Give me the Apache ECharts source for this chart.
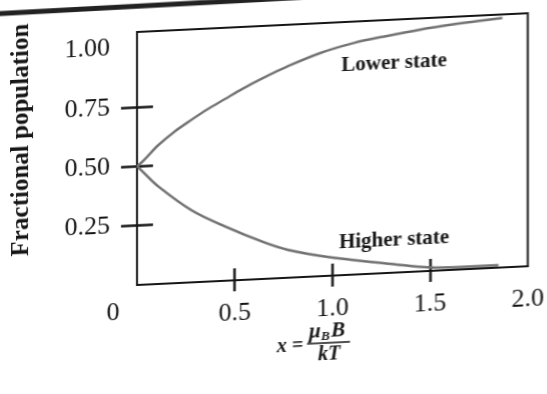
<!DOCTYPE html>
<html>
<head>
<meta charset="utf-8">
<script src="https://cdn.jsdelivr.net/npm/echarts@6/dist/echarts.min.js"></script>
<style>
  html, body { margin: 0; padding: 0; background: #ffffff; }
  /* the printed figure sits on a slightly sheared page */
  #chart { width: 547px; height: 394px; transform: skewY(-2.75deg); transform-origin: 137px 285px; }
</style>
</head>
<body>
<div id="chart"></div>
<script>
// Tick positions and labels
const xTickLabels = [0, 0.5, 1.0, 1.5, 2.0];
const xTickMarks = [0.5, 1.0, 1.5];
const yTickLabels = [0.25, 0.5, 0.75, 1.0];
const yTickMarks = [0.25, 0.5, 0.75];

// Lower state population vs x = muB*B/kT
const lowerX = [0, 0.03, 0.11, 0.19, 0.28, 0.36, 0.45, 0.54, 0.65, 0.77, 0.94, 1.11, 1.28, 1.45, 1.62, 1.79, 1.87];
const lowerY = [0.50, 0.52, 0.585, 0.637, 0.685, 0.725, 0.765, 0.805, 0.848, 0.89, 0.94, 0.975, 0.998, 1.018, 1.033, 1.045, 1.05];

// Higher state population
const higherX = [0, 0.03, 0.11, 0.28, 0.45, 0.65, 0.77, 0.98, 1.32, 1.53, 1.75, 1.85];
const higherY = [0.50, 0.475, 0.41, 0.303, 0.229, 0.154, 0.118, 0.079, 0.035, 0.013, 0.01, 0.01];

const zip = (xs, ys) => xs.map((x, i) => [x, ys[i]]);

const INK = '#161616';
const CURVE = '#727272';
const SERIF = '"Liberation Serif", "DejaVu Serif", serif';

const X_MIN = 0, X_MAX = 2;
const Y_MIN = 0, Y_MAX = 1.065;

const chart = echarts.init(document.getElementById('chart'), null, { renderer: 'canvas' });

const baseX = {
  type: 'value', min: X_MIN, max: X_MAX, position: 'bottom',
  splitLine: { show: false }
};
const baseY = {
  type: 'value', min: Y_MIN, max: Y_MAX, position: 'left',
  splitLine: { show: false }
};

chart.setOption({
  backgroundColor: '#ffffff',
  animation: false,
  grid: {
    left: 137, right: 18, top: 32, bottom: 109,
    show: true, borderColor: INK, borderWidth: 2, backgroundColor: 'transparent'
  },
  xAxis: [
    Object.assign({}, baseX, {
      axisLine: { show: true, lineStyle: { color: INK, width: 2 } },
      axisTick: { show: true, inside: false, length: 11, customValues: xTickMarks, lineStyle: { color: INK, width: 2.5 } },
      axisLabel: {
        show: true, customValues: xTickLabels, margin: 20,
        fontFamily: SERIF, fontSize: 26, color: INK,
        formatter: v => v === 0 ? '{o|0}' : v.toFixed(1),
        // the origin label sits left of the frame and a little higher
        rich: { o: { fontFamily: SERIF, fontSize: 26, color: INK, lineHeight: 14, padding: [0, 48, 0, 0] } }
      }
    }),
    Object.assign({}, baseX, {
      axisLine: { show: false },
      axisTick: { show: true, inside: true, length: 12, customValues: xTickMarks, lineStyle: { color: INK, width: 2.5 } },
      axisLabel: { show: false }
    })
  ],
  yAxis: [
    Object.assign({}, baseY, {
      name: 'Fractional population',
      nameLocation: 'middle',
      nameGap: 103,
      nameTextStyle: { fontFamily: SERIF, fontSize: 25, fontWeight: 'bold', color: INK, padding: [0, 0, 0, 48] },
      axisLine: { show: true, lineStyle: { color: INK, width: 2 } },
      axisTick: { show: true, inside: false, length: 16, customValues: yTickMarks, lineStyle: { color: INK, width: 2.5 } },
      axisLabel: {
        show: true, customValues: yTickLabels, margin: 27,
        fontFamily: SERIF, fontSize: 26, color: INK,
        formatter: v => v.toFixed(2)
      }
    }),
    Object.assign({}, baseY, {
      axisLine: { show: false },
      axisTick: { show: true, inside: true, length: 16, customValues: yTickMarks, lineStyle: { color: INK, width: 2.5 } },
      axisLabel: { show: false }
    })
  ],
  series: [
    {
      name: 'Lower state', type: 'line', xAxisIndex: 0, yAxisIndex: 0,
      data: zip(lowerX, lowerY), smooth: 0.35, symbol: 'none',
      lineStyle: { color: CURVE, width: 2.5 }
    },
    {
      name: 'Higher state', type: 'line', xAxisIndex: 0, yAxisIndex: 0,
      data: zip(higherX, higherY), smooth: 0.35, symbol: 'none',
      lineStyle: { color: CURVE, width: 2.5 }
    }
  ],
  graphic: [
    // heavy rule along the top of the page
    { type: 'line', shape: { x1: -10, y1: 7, x2: 340, y2: 5 }, style: { stroke: '#222', lineWidth: 5 }, silent: true },
    { type: 'text', x: 394, y: 76, style: { text: 'Lower state', font: 'bold 21px ' + SERIF, fill: INK, textAlign: 'center', textVerticalAlign: 'middle' } },
    { type: 'text', x: 394, y: 253, style: { text: 'Higher state', font: 'bold 21px ' + SERIF, fill: INK, textAlign: 'center', textVerticalAlign: 'middle' } },
    // x-axis title:  x = muB B / kT
    { type: 'text', x: 290, y: 354, style: { text: 'x =', font: 'italic bold 20px ' + SERIF, fill: INK, textAlign: 'center', textVerticalAlign: 'middle' } },
    { type: 'text', x: 309, y: 341, style: { text: 'μ', font: 'italic bold 21px ' + SERIF, fill: INK, textAlign: 'left', textVerticalAlign: 'middle' } },
    { type: 'text', x: 321, y: 346, style: { text: 'B', font: 'italic bold 13px ' + SERIF, fill: INK, textAlign: 'left', textVerticalAlign: 'middle' } },
    { type: 'text', x: 331, y: 341, style: { text: 'B', font: 'italic bold 21px ' + SERIF, fill: INK, textAlign: 'left', textVerticalAlign: 'middle' } },
    { type: 'line', shape: { x1: 307, y1: 352, x2: 350, y2: 352 }, style: { stroke: INK, lineWidth: 1.6 } },
    { type: 'text', x: 329, y: 364, style: { text: 'kT', font: 'italic bold 20px ' + SERIF, fill: INK, textAlign: 'center', textVerticalAlign: 'middle' } }
  ]
});
</script>
</body>
</html>
